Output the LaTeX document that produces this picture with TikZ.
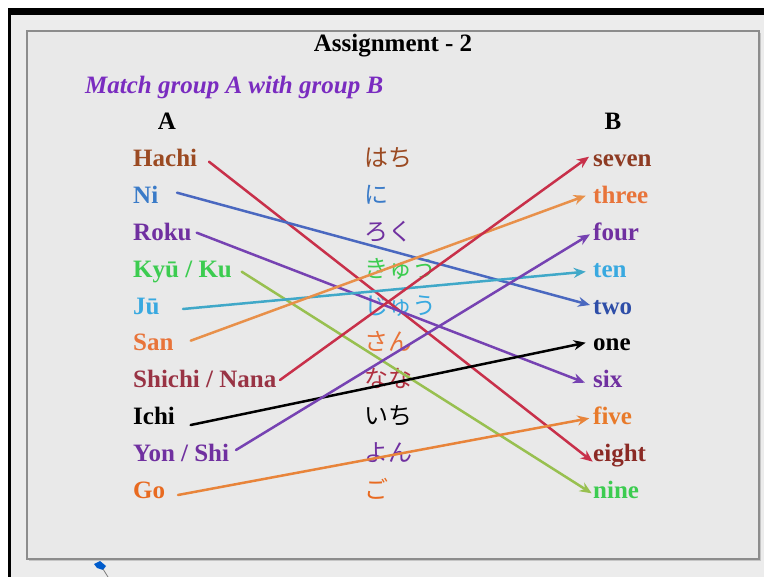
\documentclass[tikz,border=0pt]{standalone}
\usepackage{fontspec}
\setmainfont{Liberation Serif}
\newfontfamily\jpfont{Noto Sans CJK JP}
\usetikzlibrary{arrows.meta}
\definecolor{bgcol}{HTML}{ECECEC}
\definecolor{innercol}{HTML}{E9E9E9}
\definecolor{framecol}{HTML}{8C8C8C}
\definecolor{cBrown}{HTML}{9B4A22}
\definecolor{cSeven}{HTML}{8E3B23}
\definecolor{cEight}{HTML}{8B2A25}
\definecolor{cBlue}{HTML}{3A7BC8}
\definecolor{cTwo}{HTML}{2E4EA8}
\definecolor{cPurple}{HTML}{7030A0}
\definecolor{cGreen}{HTML}{3CCC50}
\definecolor{cLight}{HTML}{39A9E0}
\definecolor{cOrange}{HTML}{E8743A}
\definecolor{cRose}{HTML}{993344}
\definecolor{cRoseJ}{HTML}{B03040}
\definecolor{cGo}{HTML}{E86A20}
\definecolor{cFive}{HTML}{E87A2A}
\definecolor{lCrimson}{HTML}{C8304A}
\definecolor{lBlue}{HTML}{4A68C0}
\definecolor{lPurple}{HTML}{7642B2}
\definecolor{lGreen}{HTML}{98C050}
\definecolor{lTeal}{HTML}{40A8C8}
\definecolor{lOrange}{HTML}{E8904A}
\definecolor{lOrange2}{HTML}{E8843A}
\definecolor{titlepurple}{HTML}{7A2CC0}
\tikzset{
  word/.style={anchor=base west, inner sep=0pt, font=\fontsize{25}{30}\selectfont\bfseries},
  kana/.style={anchor=base west, inner sep=0pt, font=\jpfont\fontsize{24}{28}\selectfont},
  link/.style={line width=2.5pt, line cap=round, -{Stealth[length=12pt,width=10pt]}}
}
\begin{document}
\begin{tikzpicture}[x=1pt,y=-1pt]
\useasboundingbox (0,0) rectangle (764,577);
\fill[bgcol] (0,0) rectangle (764,577);
\fill[white] (0,0) rectangle (764,8);
\fill[white] (0,0) rectangle (8,577);
\fill[black] (8,8) rectangle (764,15);
\fill[black] (8,8) rectangle (11,577);
\fill[innercol] (27,31) rectangle (759,559);
\draw[framecol!50, line width=1.5pt] (29,560.5) -- (760.5,560.5) -- (760.5,33);
\draw[framecol, line width=1.5pt] (27,31) rectangle (759,559);

% titles
\node[anchor=base, inner sep=0pt, font=\fontsize{25}{30}\selectfont\bfseries] (title) at (393,51.5) {Assignment - 2};
\node[anchor=base west, inner sep=0pt, text=titlepurple, font=\fontsize{25}{30}\selectfont\bfseries\itshape] (sub) at (85,93.3) {Match group A with group B};
\node[anchor=base, inner sep=0pt, font=\fontsize{25}{30}\selectfont\bfseries] (colA) at (167,130) {A};
\node[anchor=base, inner sep=0pt, font=\fontsize{25}{30}\selectfont\bfseries] (colB) at (613,130) {B};

% group A
\node[word, text=cBrown]  (hachi)  at (133,166.5) {Hachi};
\node[word, text=cBlue]   (ni)     at (133,203.4) {Ni};
\node[word, text=cPurple] (roku)   at (133,240.3) {Roku};
\node[word, text=cGreen]  (kyu)    at (133,277.2) {Kyū / Ku};
\node[word, text=cLight]  (ju)     at (133,314.1) {Jū};
\node[word, text=cOrange] (san)    at (133,351.0) {San};
\node[word, text=cRose]   (shichi) at (133,387.9) {Shichi / Nana};
\node[word, text=black]   (ichi)   at (133,424.8) {Ichi};
\node[word, text=cPurple] (yon)    at (133,461.7) {Yon / Shi};
\node[word, text=cGo]     (go)     at (133,498.6) {Go};

% kana
\node[kana, text=cBrown]  (k1)  at (364,166.5) {はち};
\node[kana, text=cBlue]   (k2)  at (364,203.4) {に};
\node[kana, text=cPurple] (k3)  at (364,240.3) {ろく};
\node[kana, text=cGreen]  (k4)  at (364,277.2) {きゅう};
\node[kana, text=cLight]  (k5)  at (364,314.1) {じゅう};
\node[kana, text=cOrange] (k6)  at (364,351.0) {さん};
\node[kana, text=cRoseJ]  (k7)  at (364,387.9) {なな};
\node[kana, text=black]   (k8)  at (364,424.8) {いち};
\node[kana, text=cPurple] (k9)  at (364,461.7) {よん};
\node[kana, text=cGo]     (k10) at (364,498.6) {ご};

% group B
\node[word, text=cSeven]  (seven) at (593,166.5) {seven};
\node[word, text=cOrange] (three) at (593,203.4) {three};
\node[word, text=cPurple] (four)  at (593,240.3) {four};
\node[word, text=cLight]  (ten)   at (593,277.2) {ten};
\node[word, text=cTwo]    (two)   at (593,314.1) {two};
\node[word, text=black]   (one)   at (593,351.0) {one};
\node[word, text=cPurple] (six)   at (593,387.9) {six};
\node[word, text=cFive]   (five)  at (593,424.8) {five};
\node[word, text=cEight]  (eight) at (593,461.7) {eight};
\node[word, text=cGreen]  (nine)  at (593,498.6) {nine};

% connector ends
\coordinate (sHachi)  at (209,161.7);
\coordinate (sNi)     at (177,192.7);
\coordinate (sRoku)   at (196.7,232.7);
\coordinate (sKyu)    at (241.7,271.7);
\coordinate (sJu)     at (183,309);
\coordinate (sSan)    at (190.7,340.7);
\coordinate (sShichi) at (280,380);
\coordinate (sIchi)   at (190.7,425);
\coordinate (sYon)    at (236,450);
\coordinate (sGo)     at (178,495);
\coordinate (tSeven)  at (589,156.7);
\coordinate (tThree)  at (585.7,195.7);
\coordinate (tFour)   at (590,234.3);
\coordinate (tTen)    at (585.7,271.7);
\coordinate (tTwo)    at (590,305);
\coordinate (tOne)    at (585.7,342.7);
\coordinate (tSix)    at (585,382.7);
\coordinate (tFive)   at (589.3,418.3);
\coordinate (tEight)  at (592.7,461.7);
\coordinate (tNine)   at (591.7,493.3);

% connectors
\draw[link, lCrimson] (sHachi) -- (tEight);
\draw[link, lBlue]    (sNi) -- (tTwo);
\draw[link, lPurple]  (sRoku) -- (tSix);
\draw[link, lGreen]   (sKyu) -- (tNine);
\draw[link, lTeal]    (sJu) -- (tTen);
\draw[link, lOrange]  (sSan) -- (tThree);
\draw[link, lCrimson] (sShichi) -- (tSeven);
\draw[link, black]    (sIchi) -- (tOne);
\draw[link, lPurple]  (sYon) -- (tFour);
\draw[link, lOrange2] (sGo) -- (tFive);

% cursor
\fill[blue!55!cyan!80!black] (94,564) -- (100,561) -- (106,566) -- (103,570) -- (97,568) -- cycle;
\draw[gray, line width=0.8pt] (103,569) -- (108,577);
\end{tikzpicture}
\end{document}
